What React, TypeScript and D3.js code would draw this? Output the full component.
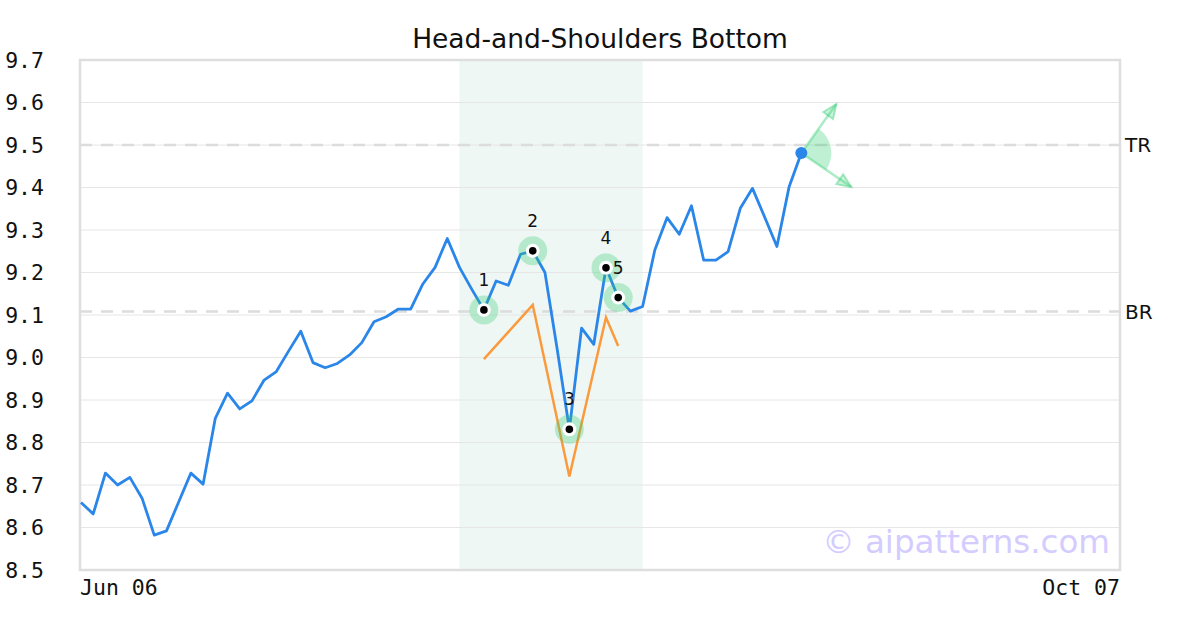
import React from "react";
import * as d3 from "d3";

const prices: number[] = [
  8.659, 8.632, 8.728, 8.700, 8.718, 8.669, 8.582, 8.592, 8.660, 8.728,
  8.702, 8.857, 8.916, 8.879, 8.898, 8.947, 8.967, 9.015, 9.062, 8.988,
  8.976, 8.986, 9.006, 9.035, 9.084, 9.096, 9.114, 9.114, 9.173, 9.212,
  9.280, 9.212, 9.161, 9.112, 9.180, 9.170, 9.243, 9.251, 9.200, 9.020,
  8.831, 9.069, 9.031, 9.211, 9.141, 9.109, 9.120, 9.253, 9.329, 9.290,
  9.357, 9.229, 9.229, 9.249, 9.351, 9.398, 9.330, 9.261, 9.402, 9.481,
];
const pivotIdx: number[] = [33, 37, 40, 43, 44];
const pivotLabels: string[] = ["1", "2", "3", "4", "5"];
const orangeIdx: number[] = [33, 37, 40, 43, 44];
const orangeVals: number[] = [8.996, 9.124, 8.720, 9.094, 9.027];
const shadeRange: number[] = [31, 46];
const levels: { name: string; value: number }[] = [
  { name: "TR", value: 9.5 },
  { name: "BR", value: 9.108 },
];
const yTicks: number[] = [8.5, 8.6, 8.7, 8.8, 8.9, 9.0, 9.1, 9.2, 9.3, 9.4, 9.5, 9.6, 9.7];
const xLabels: string[] = ["Jun 06", "Oct 07"];
const xDomainEnd = 85.1;

export default function App() {
  const W = 1200, H = 630;
  const L = 80, R = 1120, T = 60, B = 570;
  const x = d3.scaleLinear().domain([0, xDomainEnd]).range([L + 1, R]);
  const y = d3.scaleLinear().domain([8.5, 9.7]).range([B, T]);
  const line = d3.line<number>().x((_, i) => x(i)).y((d) => y(d));
  const orangeLine = d3
    .line<number>()
    .x((_, i) => x(orangeIdx[i]))
    .y((d) => y(d));

  const lastI = prices.length - 1;
  const px = x(lastI), py = y(prices[lastI]);
  const up = { x: px + 35, y: py - 49 };
  const down = { x: px + 50, y: py + 34 };
  const a1 = Math.atan2(up.x - px, -(up.y - py));
  const a2 = Math.atan2(down.x - px, -(down.y - py));
  const wedge = d3.arc()({
    innerRadius: 0,
    outerRadius: 30,
    startAngle: a1,
    endAngle: a2,
  } as any) as string;

  const arrowHead = (tx: number, ty: number, fx: number, fy: number) => {
    const ang = Math.atan2(ty - fy, tx - fx);
    const len = 14, wid = 6;
    const bx = tx - len * Math.cos(ang), by = ty - len * Math.sin(ang);
    const p1 = [bx + wid * Math.sin(ang), by - wid * Math.cos(ang)];
    const p2 = [bx - wid * Math.sin(ang), by + wid * Math.cos(ang)];
    return `M${tx},${ty}L${p1[0]},${p1[1]}L${p2[0]},${p2[1]}Z`;
  };

  return (
    <svg width={W} height={H} style={{ display: "block", position: "absolute", left: 0, top: 0 }}>
      <rect x={0} y={0} width={W} height={H} fill="#fff" />
      <text x={600} y={48} textAnchor="middle" fontFamily="DejaVu Sans" fontSize={26.5} fill="#111">
        Head-and-Shoulders Bottom
      </text>
      <rect x={x(shadeRange[0])} y={T} width={x(shadeRange[1]) - x(shadeRange[0])} height={B - T} fill="#eef7f3" />
      {yTicks.map((t) => (
        <line key={t} x1={L} x2={R} y1={y(t)} y2={y(t)} stroke="#e6e6e6" strokeWidth={1} />
      ))}
      {levels.map((lv) => (
        <g key={lv.name}>
          <line x1={L} x2={R} y1={y(lv.value)} y2={y(lv.value)} stroke="#dcdcdc" strokeWidth={2.5} strokeDasharray="12,9" />
          <text x={R + 5} y={y(lv.value) + 7} fontFamily="DejaVu Sans" fontSize={20} fill="#111">
            {lv.name}
          </text>
        </g>
      ))}
      <rect x={L} y={T} width={R - L} height={B - T} fill="none" stroke="#dedede" strokeWidth={2.5} />
      {yTicks.map((t) => (
        <text key={t} x={44} y={y(t) + 7.5} textAnchor="end" fontFamily="DejaVu Sans Mono" fontSize={21.5} fill="#111">
          {t.toFixed(1)}
        </text>
      ))}
      <text x={L} y={595} fontFamily="DejaVu Sans Mono" fontSize={21.5} fill="#111">{xLabels[0]}</text>
      <text x={R} y={595} textAnchor="end" fontFamily="DejaVu Sans Mono" fontSize={21.5} fill="#111">{xLabels[1]}</text>
      <path d={orangeLine(orangeVals) as string} fill="none" stroke="#fb9a3c" strokeWidth={2.5} />
      <path d={line(prices) as string} fill="none" stroke="#2a86e8" strokeWidth={2.8} strokeLinejoin="round" />
      {pivotIdx.map((idx, k) => (
        <g key={idx}>
          <circle cx={x(idx)} cy={y(prices[idx])} r={14.5} fill="#2ecc71" fillOpacity={0.3} />
          <circle cx={x(idx)} cy={y(prices[idx])} r={7} fill="#fff" />
          <circle cx={x(idx)} cy={y(prices[idx])} r={3.8} fill="#000" />
          <text x={x(idx)} y={y(prices[idx]) - 24} textAnchor="middle" fontFamily="DejaVu Sans" fontSize={17} fill="#111">
            {pivotLabels[k]}
          </text>
        </g>
      ))}
      <g transform={`translate(${px},${py})`}>
        <path d={wedge} fill="#2ecc71" fillOpacity={0.3} />
      </g>
      <line x1={px} y1={py} x2={up.x} y2={up.y} stroke="#2ecc71" strokeOpacity={0.4} strokeWidth={2.5} />
      <line x1={px} y1={py} x2={down.x} y2={down.y} stroke="#2ecc71" strokeOpacity={0.4} strokeWidth={2.5} />
      <path d={arrowHead(up.x, up.y, px, py)} fill="#2ecc71" fillOpacity={0.25} stroke="#2ecc71" strokeOpacity={0.4} strokeWidth={2} />
      <path d={arrowHead(down.x, down.y, px, py)} fill="#2ecc71" fillOpacity={0.25} stroke="#2ecc71" strokeOpacity={0.4} strokeWidth={2} />
      <circle cx={px} cy={py} r={6} fill="#2a86e8" />
      <text x={1110} y={553} textAnchor="end" fontFamily="DejaVu Sans" fontSize={32.5} fill="#d4ccff">
        © aipatterns.com
      </text>
    </svg>
  );
}
